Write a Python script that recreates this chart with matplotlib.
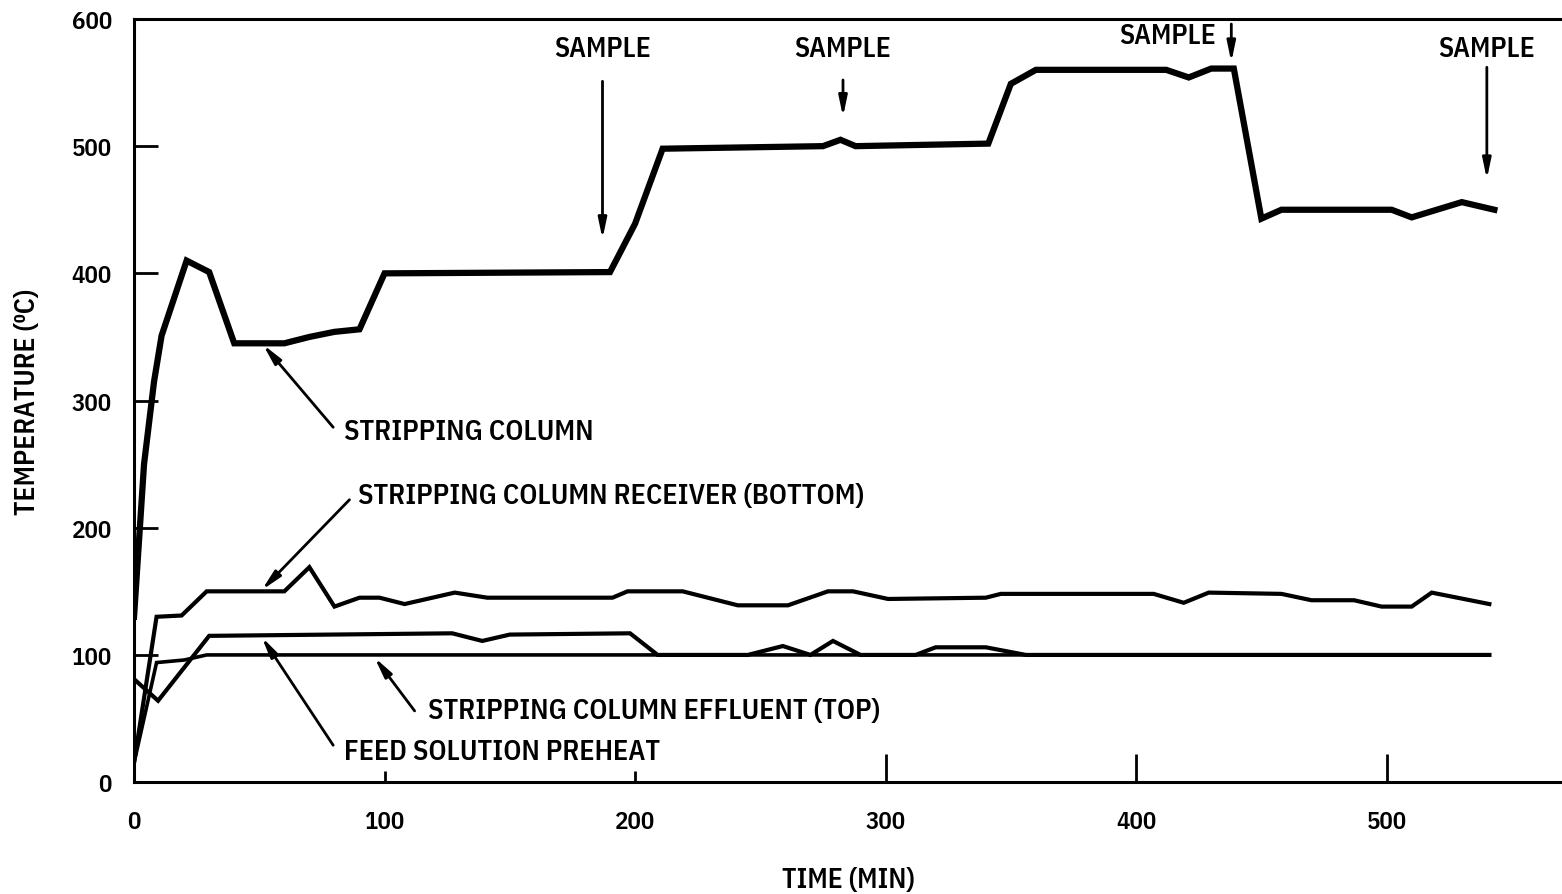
import matplotlib.pyplot as plt

# temperature traces (time in min, temp in deg C)
time_col = [0, 4, 8, 11, 21, 30, 40, 50, 60, 70, 80, 90, 100, 190, 200, 211,
            275, 282, 288, 341, 350, 360, 412, 421, 430, 439, 450, 458, 502,
            510, 520, 530, 543]
temp_col = [130, 250, 315, 351, 410, 401, 345, 345, 345, 350, 354, 356, 400,
            401, 439, 498, 500, 505, 500, 502, 549, 560, 560, 554, 561, 561,
            443, 450, 450, 444, 450, 456, 450]

time_rcv = [0, 9, 19, 29, 60, 70, 80, 90, 98, 108, 128, 141, 186, 191, 197,
            219, 241, 261, 277, 287, 301, 340, 346, 407, 419, 429, 458, 470,
            487, 498, 510, 518, 541]
temp_rcv = [15, 130, 131, 150, 150, 169, 138, 145, 145, 140, 149, 145, 145,
            145, 150, 150, 139, 139, 150, 150, 144, 145, 148, 148, 141, 149,
            148, 143, 143, 138, 138, 149, 140]

time_feed = [0, 9.6, 30, 127, 139, 150, 198, 209, 245, 259, 270, 279, 290,
             312, 320, 340, 356, 541]
temp_feed = [81, 64, 115, 117, 111, 116, 117, 100, 100, 107, 100, 111, 100,
             100, 106, 106, 100, 100]

time_eff = [0, 9, 20, 29, 541]
temp_eff = [15, 94, 96, 100, 100]

x_ticks = [0, 100, 200, 300, 400, 500]
y_ticks = [0, 100, 200, 300, 400, 500, 600]

# sample arrows: x, tail y, tip y
sample_x = [187, 283, 438, 540]
sample_tail = [551, 552, 596, 562]
sample_tip = [427, 523, 566, 474]

plt.rcParams['font.family'] = ['IBM Plex Sans Condensed', 'DejaVu Sans']
plt.rcParams['font.weight'] = 'semibold'
plt.rcParams['axes.labelweight'] = 'semibold'

fig = plt.figure(figsize=(15.62, 8.95), dpi=100)
ax = fig.add_axes([0.0858, 0.125, 0.9142, 0.8527])

ax.plot(time_col, temp_col, color='black', lw=4.5, solid_joinstyle='miter')
ax.plot(time_rcv, temp_rcv, color='black', lw=3.0, solid_joinstyle='miter')
ax.plot(time_feed, temp_feed, color='black', lw=3.0, solid_joinstyle='miter')
ax.plot(time_eff, temp_eff, color='black', lw=2.6, solid_joinstyle='miter')

ax.set_xlim(0, 570)
ax.set_ylim(0, 600)
ax.spines['right'].set_visible(False)
for s in ['left', 'bottom', 'top']:
    ax.spines[s].set_linewidth(2.2)

ax.set_xticks(x_ticks)
ax.set_yticks(y_ticks)
ax.tick_params(axis='y', direction='in', length=17, width=2, labelsize=18, pad=16)
ax.tick_params(axis='x', direction='in', length=8, width=2, labelsize=18, pad=20)
for t in ax.xaxis.get_major_ticks()[3:]:
    t.tick1line.set_markersize(20)
ax.yaxis.get_major_ticks()[0].tick1line.set_markersize(0)
ax.yaxis.get_major_ticks()[-1].tick1line.set_markersize(0)

ax.set_xlabel('TIME (MIN)', fontsize=20, labelpad=24)
ax.set_ylabel('TEMPERATURE (\u2070C)', fontsize=20, labelpad=22)

arrow = dict(arrowstyle='-|>,head_length=1.2,head_width=0.25', color='black',
             lw=2, shrinkA=0, shrinkB=0)

for i, (x, y0, y1) in enumerate(zip(sample_x, sample_tail, sample_tip)):
    ax.annotate('', xy=(x, y1), xytext=(x, y0), arrowprops=arrow)
    if i == 2:
        ax.text(x - 6, 587, 'SAMPLE', ha='right', va='center', fontsize=20)
    else:
        ax.text(x, 577, 'SAMPLE', ha='center', va='center', fontsize=20)

labels = [
    ('STRIPPING COLUMN', (84, 276), (79.5, 279), (51.5, 344)),
    ('STRIPPING COLUMN RECEIVER (BOTTOM)', (89.5, 225), (86, 222), (51, 151)),
    ('STRIPPING COLUMN EFFLUENT (TOP)', (117.5, 56), (112, 56), (96, 98)),
    ('FEED SOLUTION PREHEAT', (84, 24), (79.5, 29), (51, 114)),
]
for text, tpos, tail, tip in labels:
    ax.annotate('', xy=tip, xytext=tail, arrowprops=arrow)
    ax.text(tpos[0], tpos[1], text, ha='left', va='center', fontsize=20.3)

fig.savefig('out.png', dpi=100)
